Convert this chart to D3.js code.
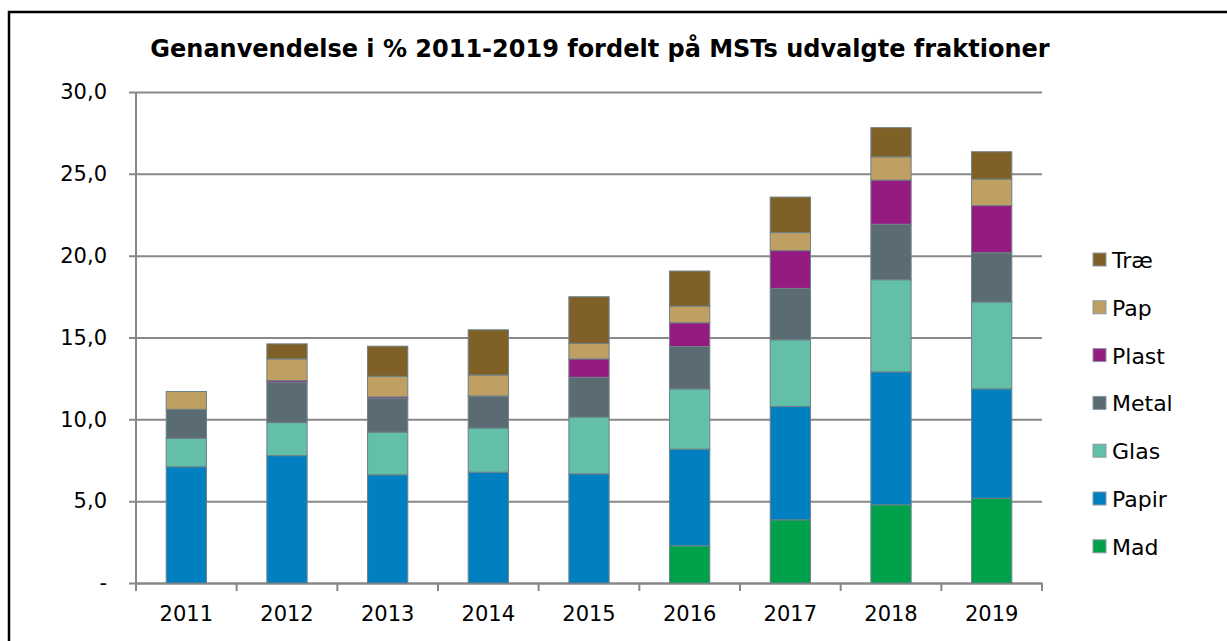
<!DOCTYPE html>
<html>
<head>
<meta charset="utf-8">
<script src="https://cdn.jsdelivr.net/npm/d3@7"></script>
<style>
  body { margin: 0; background: #fff; }
  text { font-family: "DejaVu Sans", Verdana, sans-serif; }
</style>
</head>
<body>
<div id="chart"></div>
<script>
// Genanvendelse i % fordelt på fraktioner
const years = ["2011", "2012", "2013", "2014", "2015", "2016", "2017", "2018", "2019"];
const mad   = [0, 0, 0, 0, 0, 2.28, 3.86, 4.78, 5.18];
const papir = [7.10, 7.78, 6.61, 6.77, 6.67, 5.90, 6.92, 8.12, 6.68];
const glas  = [1.74, 2.02, 2.61, 2.70, 3.47, 3.68, 4.08, 5.63, 5.31];
const metal = [1.77, 2.47, 2.05, 1.92, 2.43, 2.59, 3.14, 3.39, 3.01];
const plast = [0, 0.10, 0.10, 0.04, 1.12, 1.45, 2.31, 2.70, 2.88];
const pap   = [1.09, 1.32, 1.26, 1.28, 0.95, 1.02, 1.10, 1.42, 1.62];
const trae  = [0, 0.92, 1.84, 2.76, 2.85, 2.14, 2.17, 1.78, 1.67];

const seriesNames = ["Mad", "Papir", "Glas", "Metal", "Plast", "Pap", "Træ"];
const seriesValues = [mad, papir, glas, metal, plast, pap, trae];
const colors = ["#00a14b", "#0080c0", "#63bfa8", "#5a6b73", "#951b81", "#bf9f62", "#7f6128"];
const yTicks = [0, 5, 10, 15, 20, 25, 30];

const W = 1227, H = 641;
const margin = { top: 92, right: 185, bottom: 58, left: 136 },
    width = W - margin.left - margin.right,
    height = H - margin.top - margin.bottom;

const svgRoot = d3.select("#chart").append("svg")
    .attr("width", W)
    .attr("height", H);

// frame
svgRoot.append("rect")
    .attr("x", 9).attr("y", 12)
    .attr("width", 1300).attr("height", 800)
    .attr("fill", "none")
    .attr("stroke", "#000")
    .attr("stroke-width", 2.5);

// title
svgRoot.append("text")
    .attr("x", 600).attr("y", 57)
    .attr("text-anchor", "middle")
    .style("font-weight", "bold")
    .style("font-size", "24px")
    .text("Genanvendelse i % 2011-2019 fordelt på MSTs udvalgte fraktioner");

const svg = svgRoot.append("g")
    .attr("transform", "translate(" + margin.left + "," + margin.top + ")");

// table of rows for the stack
const rows = years.map((yr, i) => {
    const r = { year: yr };
    seriesNames.forEach((n, k) => r[n] = seriesValues[k][i]);
    return r;
});
const stacked = d3.stack().keys(seriesNames)(rows);

const x = d3.scaleBand()
    .domain(years)
    .range([0, width])
    .paddingInner(0.6)
    .paddingOuter(0.3);

const y = d3.scaleLinear()
    .domain([0, 30])
    .range([height, 0]);

// Y axis with gridlines
const yAxis = svg.append("g")
    .call(d3.axisLeft(y)
        .tickValues(yTicks)
        .tickSize(-width)
        .tickPadding(29)
        .tickFormat(d => d === 0 ? "-" : d3.format(".1f")(d).replace(".", ",")));
yAxis.select(".domain").remove();
yAxis.selectAll(".tick line")
    .attr("x1", -7)
    .attr("stroke", "#888")
    .attr("stroke-width", 2);
yAxis.selectAll(".tick text")
    .style("font-size", "21px")
    .attr("fill", "#000");

// vertical axis line
svg.append("line")
    .attr("x1", 0).attr("x2", 0)
    .attr("y1", 0).attr("y2", height)
    .attr("stroke", "#888")
    .attr("stroke-width", 2);

// X axis: labels centred, ticks between categories
const xAxis = svg.append("g")
    .attr("transform", "translate(0," + height + ")")
    .call(d3.axisBottom(x).tickSize(0).tickPadding(23));
xAxis.select(".domain").attr("stroke", "#888").attr("stroke-width", 2);
xAxis.selectAll(".tick text").style("font-size", "21px").attr("fill", "#000");

const edges = years.map(d => x(d) - x.step() * x.paddingOuter()).concat([width]);
svg.append("g")
    .selectAll("line")
    .data(edges)
    .enter()
    .append("line")
    .attr("x1", d => d).attr("x2", d => d)
    .attr("y1", height).attr("y2", height + 8)
    .attr("stroke", "#888")
    .attr("stroke-width", 2);

// bars
svg.append("g")
    .selectAll("g")
    .data(stacked)
    .enter()
    .append("g")
    .attr("fill", (d, i) => colors[i])
    .selectAll("rect")
    .data(d => d.filter(p => p[1] - p[0] > 0))
    .enter()
    .append("rect")
    .attr("x", d => x(d.data.year))
    .attr("y", d => y(d[1]))
    .attr("width", x.bandwidth())
    .attr("height", d => y(d[0]) - y(d[1]))
    .attr("stroke", "#6e8088")
    .attr("stroke-width", 1);

// legend (reverse order, Træ at top)
const legend = svgRoot.append("g");
const legendItems = seriesNames.map((n, i) => ({ name: n, color: colors[i] })).reverse();
const item = legend.selectAll("g")
    .data(legendItems)
    .enter()
    .append("g")
    .attr("transform", (d, i) => "translate(1093," + (260 + i * 47.8) + ")");
item.append("rect")
    .attr("x", 0).attr("y", -7)
    .attr("width", 13).attr("height", 13)
    .attr("fill", d => d.color)
    .attr("stroke", "#8a9aa0")
    .attr("stroke-width", 1);
item.append("text")
    .attr("x", 19).attr("y", 8)
    .style("font-size", "22px")
    .text(d => d.name);
</script>
</body>
</html>
